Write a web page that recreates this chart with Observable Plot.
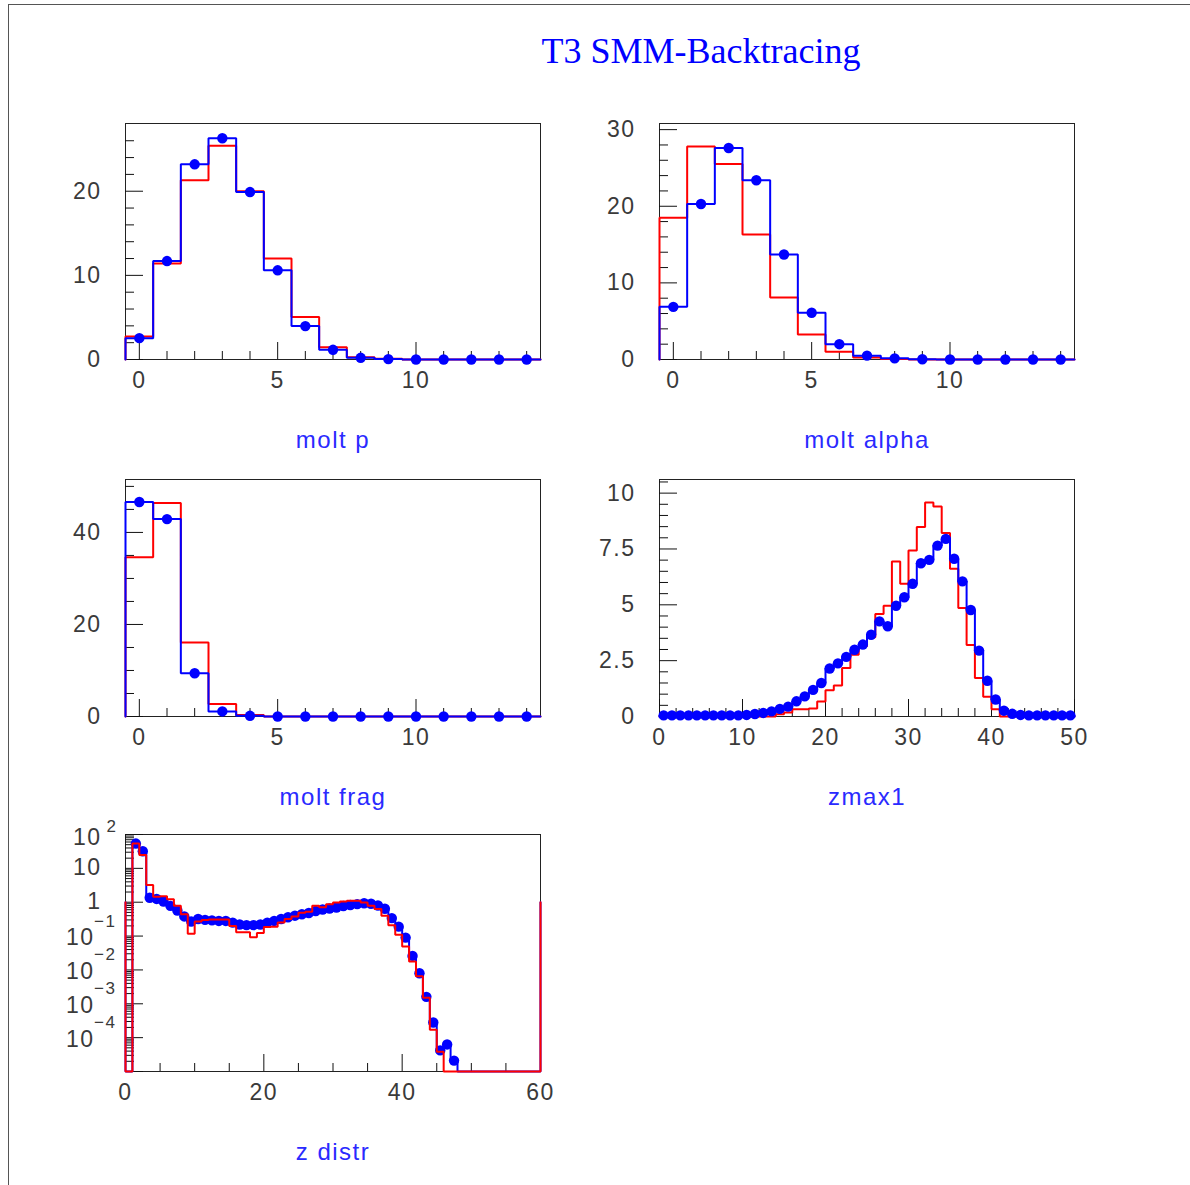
<!DOCTYPE html>
<html>
<head>
<meta charset="utf-8">
<script src="https://cdn.jsdelivr.net/npm/d3@7"></script>
<script src="https://cdn.jsdelivr.net/npm/@observablehq/plot@0.6"></script>
<style>
  body { margin: 0; background: #fff; }
  #page { position: relative; width: 1190px; height: 1185px; overflow: hidden; background: #fff; }
  #border { position: absolute; left: 8px; top: 4px; right: -2px; bottom: -2px; border-top: 1px solid #555; border-left: 1px solid #555; }
  #title { position: absolute; left: 701px; top: 33px; transform: translateX(-50%); font-family: "Liberation Serif", "DejaVu Serif", serif; font-size: 36px; line-height: 36px; color: #0000ff; white-space: nowrap; }
  .panel { position: absolute; }
  .panel svg text { letter-spacing: 1.5px; }
</style>
</head>
<body>
<div id="page">
  <div id="border"></div>
  <div id="title">T3 SMM-Backtracing</div>
</div>
<script>
// ---------- data ----------
const moltP_red  = [2.74, 11.4, 21.3, 25.4, 20.0, 12.0, 5.04, 1.47, 0.28, 0.08, 0, 0, 0, 0, 0];
const moltP_blue = [2.54, 11.7, 23.2, 26.3, 19.9, 10.6, 3.97, 1.15, 0.20, 0.05, 0, 0, 0, 0, 0];

const moltA_red  = [18.5, 27.8, 25.5, 16.3, 8.1, 3.26, 1.0, 0.26, 0.05, 0, 0, 0, 0, 0, 0];
const moltA_blue = [6.87, 20.3, 27.6, 23.4, 13.7, 6.1, 2.0, 0.5, 0.15, 0.03, 0, 0, 0, 0, 0];

const moltF_red  = [34.6, 46.4, 16.1, 2.7, 0.3, 0, 0, 0, 0, 0, 0, 0, 0, 0, 0];
const moltF_blue = [46.6, 42.9, 9.4, 1.1, 0.15, 0, 0, 0, 0, 0, 0, 0, 0, 0, 0];

const zmax_red = [
  0, 0, 0, 0, 0, 0, 0, 0, 0, 0,
  0, 0, 0, 0, 0.10, 0.18, 0.32, 0.33, 0.36, 0.67,
  1.18, 1.39, 2.17, 2.77, 3.15, 3.55, 4.59, 4.96, 6.94, 5.94,
  7.43, 8.48, 9.58, 9.40, 8.21, 6.61, 4.86, 3.20, 1.72, 0.88,
  0.33, 0, 0, 0, 0, 0, 0, 0, 0, 0
];
const zmax_blue = [
  0.05, 0.05, 0.05, 0.05, 0.05, 0.05, 0.05, 0.05, 0.05, 0.05,
  0.07, 0.11, 0.16, 0.23, 0.34, 0.44, 0.68, 0.90, 1.19, 1.50,
  2.15, 2.38, 2.67, 2.99, 3.22, 3.66, 4.26, 4.04, 4.96, 5.34,
  5.94, 6.86, 7.01, 7.65, 7.95, 7.06, 6.05, 4.77, 2.95, 1.60,
  0.76, 0.26, 0.12, 0.07, 0.05, 0.05, 0.05, 0.05, 0.05, 0.05
];

const zdist_red = [
  0, 54, 24.6, 3.2, 1.46, 1.5, 1.22, 0.78, 0.44, 0.117,
  0.27, 0.30, 0.31, 0.31, 0.31, 0.20, 0.13, 0.13, 0.093, 0.123,
  0.184, 0.19, 0.25, 0.32, 0.38, 0.49, 0.52, 0.78, 0.71, 0.87,
  0.98, 1.05, 1.11, 1.11, 0.98, 0.78, 0.63, 0.40, 0.21, 0.11,
  0.049, 0.0177, 0.0065, 0.0015, 1.7e-4, 3.8e-5, 0, 0, 0, 0,
  0, 0, 0, 0, 0, 0, 0, 0, 0, 0
];
const zdist_blue = [
  0, 54, 32, 1.35, 1.25, 1.05, 0.78, 0.57, 0.38, 0.27,
  0.32, 0.30, 0.29, 0.28, 0.28, 0.25, 0.22, 0.21, 0.21, 0.22,
  0.25, 0.28, 0.32, 0.36, 0.40, 0.44, 0.48, 0.55, 0.61, 0.65,
  0.70, 0.77, 0.83, 0.88, 0.93, 0.90, 0.80, 0.64, 0.34, 0.19,
  0.09, 0.026, 0.0080, 0.0016, 2.8e-4, 4.2e-5, 6.3e-5, 2.1e-5, 0, 0,
  0, 0, 0, 0, 0, 0, 0, 0, 0, 0
];

// tick values / labels
const multXMajor = [0, 5, 10];
const multXMinor = [1, 2, 3, 4, 6, 7, 8, 9, 11, 12, 13, 14];
const pYMajor = [0, 10, 20];
const pYMinor = [2, 4, 6, 8, 12, 14, 16, 18, 22, 24, 26];
const aYMajor = [0, 10, 20, 30];
const aYMinor = [2, 4, 6, 8, 12, 14, 16, 18, 22, 24, 26, 28];
const fYMajor = [0, 20, 40];
const fYMinor = [5, 10, 15, 25, 30, 35, 45, 50];
const zmXMajor = [0, 10, 20, 30, 40, 50];
const zmXMinor = [2, 4, 6, 8, 12, 14, 16, 18, 22, 24, 26, 28, 32, 34, 36, 38, 42, 44, 46, 48];
const zmYMajor = [0, 2.5, 5, 7.5, 10];
const zmYMinor = [0.5, 1, 1.5, 2, 3, 3.5, 4, 4.5, 5.5, 6, 6.5, 7, 8, 8.5, 9, 9.5, 10.5];
const zdXMajor = [0, 20, 40, 60];
const zdXMinor = [5, 10, 15, 25, 30, 35, 45, 50, 55];
const zdDecades = [-5, -4, -3, -2, -1, 0, 1, 2];
const zdMantissas = [2, 3, 4, 5, 6, 7, 8, 9];
const zdLabelExp = [2, 1, 0, -1, -2, -3, -4];

const titles = ["molt p", "molt alpha", "molt frag", "zmax1", "z distr"];

// ---------- helpers ----------
const RED = "#ff0000", BLUE = "#0000ff", INK = "#111", LABEL = "#3a3a3a", TITLE_BLUE = "#2a2aff";
const TICKFONT = 23;

function stepPoints(vals, lo, w, base, floor) {
  const pts = [{x: lo, y: base}];
  vals.forEach((v, i) => {
    const y = Math.max(v, floor);
    pts.push({x: lo + i * w, y}, {x: lo + (i + 1) * w, y});
  });
  pts.push({x: lo + vals.length * w, y: base});
  return pts;
}

function panel(cfg) {
  const mL = 110, mR = 45, mT = 40, mB = 110;
  const W = cfg.W, H = cfg.H;
  const isLog = cfg.yType === "log";
  const base = isLog ? 1 : 0;
  const floor = isLog ? cfg.yDomain[0] : 0;
  const redPts = stepPoints(cfg.red, cfg.lo, cfg.w, base, floor);
  const bluePts = stepPoints(cfg.blue, cfg.lo, cfg.w, base, floor);
  const dots = cfg.blue.map((v, i) => ({x: cfg.lo + (i + 0.5) * cfg.w, y: v}))
                       .filter(d => isLog ? d.y > 0 : true);

  const redLine = Plot.line(redPts, {x: "x", y: "y", stroke: RED, strokeWidth: 2, strokeLinejoin: "miter"});
  const blueLine = Plot.line(bluePts, {x: "x", y: "y", stroke: BLUE, strokeWidth: 2, strokeLinejoin: "miter"});
  const blueDots = Plot.dot(dots, {x: "x", y: "y", r: 5.2, fill: BLUE, stroke: "none"});

  const marks = [
    Plot.frame({stroke: "#222"}),
    Plot.tickX(cfg.xMinor, {x: d => d, insetTop: H - 8, stroke: INK}),
    Plot.tickX(cfg.xMajor, {x: d => d, insetTop: H - 17, stroke: INK}),
    Plot.tickY(cfg.yMinor, {y: d => d, insetRight: W - 9, stroke: INK}),
    Plot.tickY(cfg.yMajor, {y: d => d, insetRight: W - 18, stroke: INK}),
    Plot.text(cfg.xMajor, {x: d => d, frameAnchor: "bottom", dy: 28, text: d => String(d), fontSize: TICKFONT, fill: LABEL})
  ];
  if (isLog) {
    const yv = d => Math.pow(10, d);
    marks.push(
      // "10^2" base
      Plot.text(cfg.yLabelExp.filter(d => d === 2), {y: yv, frameAnchor: "left", textAnchor: "end",
        text: () => "10", fontSize: TICKFONT, fill: LABEL, dx: -24, dy: 3}),
      // "10" and "1"
      Plot.text(cfg.yLabelExp.filter(d => d === 0 || d === 1), {y: yv, frameAnchor: "left", textAnchor: "end",
        text: d => d === 0 ? "1" : "10", fontSize: TICKFONT, fill: LABEL, dx: -24, dy: -1}),
      // "10" bases for negative exponents
      Plot.text(cfg.yLabelExp.filter(d => d < 0), {y: yv, frameAnchor: "left", textAnchor: "end",
        text: () => "10", fontSize: TICKFONT, fill: LABEL, dx: -31, dy: 2}),
      // positive superscript
      Plot.text(cfg.yLabelExp.filter(d => d === 2), {y: yv, frameAnchor: "left", textAnchor: "end",
        text: d => String(d), fontSize: 17, fill: LABEL, dx: -8, dy: -8}),
      // negative superscripts
      Plot.text(cfg.yLabelExp.filter(d => d < 0), {y: yv, frameAnchor: "left", textAnchor: "end",
        text: d => "\u2212" + String(-d), fontSize: 17, fill: LABEL, dx: -9, dy: -15})
    );
  } else {
    marks.push(Plot.text(cfg.yMajor, {y: d => d, frameAnchor: "left", textAnchor: "end", dx: -24,
      text: d => String(d), fontSize: TICKFONT, fill: LABEL}));
  }
  if (cfg.redOnTop) marks.push(blueLine, blueDots, redLine);
  else marks.push(redLine, blueLine, blueDots);
  marks.push(
    Plot.text([cfg.title], {text: d => d, frameAnchor: "bottom", dy: 88, fontSize: 24, fill: TITLE_BLUE})
  );

  const chart = Plot.plot({
    width: mL + W + mR,
    height: mT + H + mB,
    marginLeft: mL, marginRight: mR, marginTop: mT, marginBottom: mB,
    x: {domain: cfg.xDomain, axis: null},
    y: {domain: cfg.yDomain, type: cfg.yType || "linear", axis: null},
    style: {fontFamily: "'Liberation Sans', Arial, sans-serif", background: "transparent", overflow: "visible"},
    marks
  });
  const div = document.createElement("div");
  div.className = "panel";
  div.style.left = (cfg.left - mL) + "px";
  div.style.top = (cfg.top - mT) + "px";
  div.appendChild(chart);
  document.getElementById("page").appendChild(div);
}

panel({left: 125, top: 123, W: 415, H: 236, lo: -0.5, w: 1, xDomain: [-0.5, 14.5], yDomain: [0, 28.05],
  red: moltP_red, blue: moltP_blue, xMajor: multXMajor, xMinor: multXMinor, yMajor: pYMajor, yMinor: pYMinor, title: titles[0]});
panel({left: 659, top: 123, W: 415, H: 236, lo: -0.5, w: 1, xDomain: [-0.5, 14.5], yDomain: [0, 30.8],
  red: moltA_red, blue: moltA_blue, xMajor: multXMajor, xMinor: multXMinor, yMajor: aYMajor, yMinor: aYMinor, title: titles[1]});
panel({left: 125, top: 479, W: 415, H: 237, lo: -0.5, w: 1, xDomain: [-0.5, 14.5], yDomain: [0, 51.5],
  red: moltF_red, blue: moltF_blue, xMajor: multXMajor, xMinor: multXMinor, yMajor: fYMajor, yMinor: fYMinor, title: titles[2]});
panel({left: 659, top: 479, W: 415, H: 237, lo: 0, w: 1, xDomain: [0, 50], yDomain: [0, 10.61],
  red: zmax_red, blue: zmax_blue, xMajor: zmXMajor, xMinor: zmXMinor, yMajor: zmYMajor, yMinor: zmYMinor, title: titles[3]});

const logMinor = [];
zdDecades.slice(0, -1).forEach(k => zdMantissas.forEach(m => logMinor.push(m * Math.pow(10, k))));
panel({left: 125, top: 834, W: 415, H: 237, lo: 0, w: 1, xDomain: [0, 60], yDomain: [1e-5, 100], yType: "log",
  red: zdist_red, blue: zdist_blue, xMajor: zdXMajor, xMinor: zdXMinor,
  yMajor: zdDecades.map(k => Math.pow(10, k)), yMinor: logMinor, yLabelExp: zdLabelExp,
  title: titles[4], redOnTop: true});
</script>
</body>
</html>
